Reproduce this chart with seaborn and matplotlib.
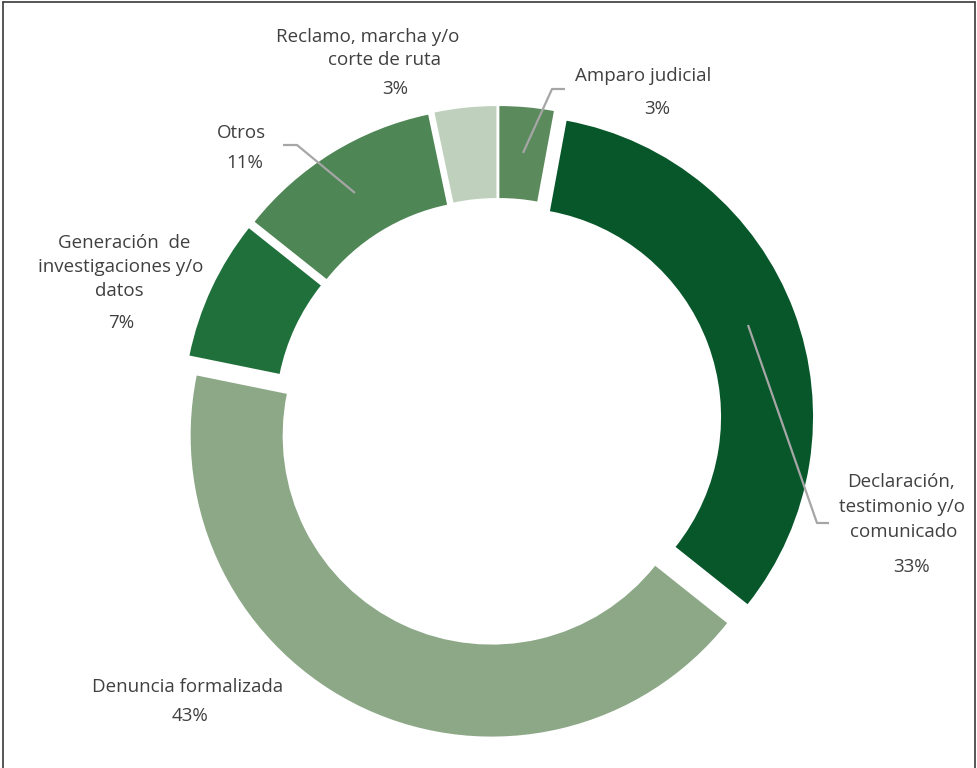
import matplotlib
matplotlib.use("Agg")
import matplotlib.pyplot as plt
import seaborn as sns
from matplotlib.lines import Line2D

# ---- data ----
categories = ["Amparo judicial", "Declaración, testimonio y/o comunicado",
              "Denuncia formalizada", "Generación de investigaciones y/o datos",
              "Otros", "Reclamo, marcha y/o corte de ruta"]
shares = [2.9, 32.8, 42.5, 7.5, 11.0, 3.3]
pct_labels = ["3%", "33%", "43%", "7%", "11%", "3%"]
colors = ["#5b8a5d", "#07572b", "#8ca887", "#20703c", "#4e8655", "#bfd1bc"]

# label lines per category (text lines, then the percent)
label_lines = [
    ["Amparo judicial"],
    ["Declaración,", "testimonio y/o", "comunicado"],
    ["Denuncia formalizada"],
    ["Generación  de", "investigaciones y/o", "datos"],
    ["Otros"],
    ["Reclamo, marcha y/o", "corte de ruta"],
]

sns.set_theme(style="white")
plt.rcParams["font.family"] = ["Open Sans", "DejaVu Sans"]

W, H = 977, 768
fig = plt.figure(figsize=(W / 100, H / 100), dpi=100)
ax = fig.add_axes([0, 0, 1, 1])

cx, cy = 498, H - 422
R = 301
ring = 92
ax.pie(shares, colors=colors, startangle=90, counterclock=False,
       center=(cx, cy), radius=R, explode=[15] * len(shares),
       wedgeprops=dict(width=ring, linewidth=0), frame=True)
ax.set_xlim(0, W)
ax.set_ylim(0, H)
ax.set_aspect("auto")
ax.axis("off")

tc = "#404040"
fs = 13.5

def put(x, y, s):
    ax.text(x, H - y, s, ha="center", va="center", fontsize=fs, color=tc)

# label layout (image pixel positions)
line_pos = [
    [(643, 76)],
    [(901, 482), (902, 507), (904, 532)],
    [(188, 687)],
    [(124, 243), (121, 267), (119, 291)],
    [(241, 133)],
    [(368, 37), (385, 60)],
]
pct_pos = [(657, 109), (911, 567), (190, 716), (121, 323), (245, 163), (395, 89)]

for lines, poss, pct, pp in zip(label_lines, line_pos, pct_labels, pct_pos):
    for s, (x, y) in zip(lines, poss):
        put(x, y, s)
    put(pp[0], pp[1], pct)

# leader lines
leaders = [
    [(523, 153), (552, 89), (565, 89)],
    [(283, 145), (297, 145), (355, 193)],
    [(748, 325), (817, 523), (829, 523)],
]
for pts in leaders:
    xs = [p[0] for p in pts]
    ys = [H - p[1] for p in pts]
    ax.plot(xs, ys, color="#a6a6a6", lw=1.6, solid_capstyle="butt")

# frame
fc = "#3a3a3a"
fig.add_artist(Line2D([3 / W, 3 / W], [0, 1 - 2 / H], color=fc, lw=1.2, transform=fig.transFigure))
fig.add_artist(Line2D([3 / W, 975 / W], [1 - 2 / H, 1 - 2 / H], color=fc, lw=1.2, transform=fig.transFigure))
fig.add_artist(Line2D([975 / W, 975 / W], [0, 1 - 2 / H], color=fc, lw=1.2, transform=fig.transFigure))

fig.savefig("out.png", dpi=100, facecolor="white")
